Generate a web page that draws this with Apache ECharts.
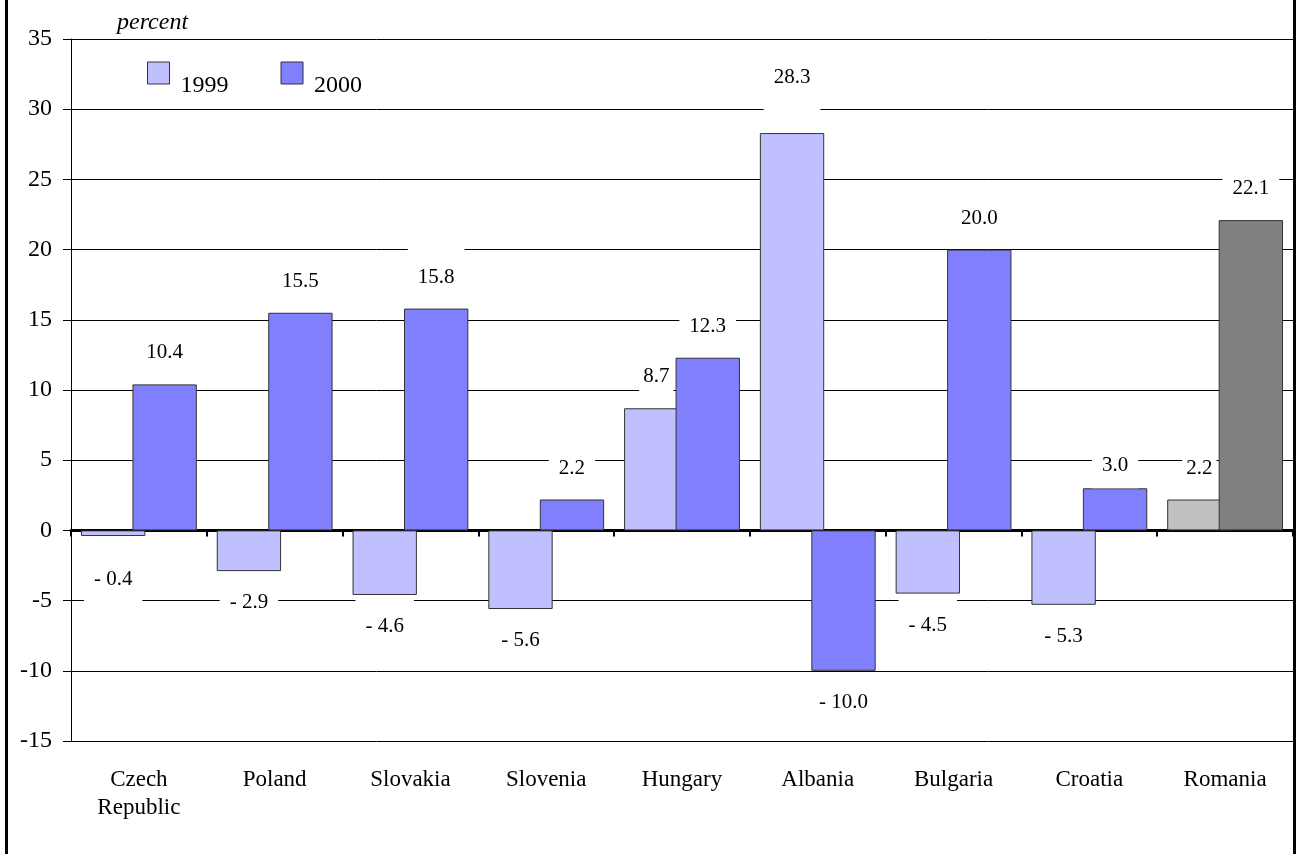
<!DOCTYPE html>
<html>
<head>
<meta charset="utf-8">
<script src="https://cdn.jsdelivr.net/npm/echarts@6/dist/echarts.min.js"></script>
<style>
  html, body { margin: 0; padding: 0; background: #fff; }
  #chart { width: 1296px; height: 854px; }
</style>
</head>
<body>
<div id="chart"></div>
<script>
// countries on the x axis
var countries = ['Czech Republic', 'Poland', 'Slovakia', 'Slovenia', 'Hungary', 'Albania', 'Bulgaria', 'Croatia', 'Romania'];
// percent change, by year
var values1999 = [-0.4, -2.9, -4.6, -5.6, 8.7, 28.3, -4.5, -5.3, 2.2];
var values2000 = [10.4, 15.5, 15.8, 2.2, 12.3, -10.0, 20.0, 3.0, 22.1];
var yTicks = [-15, -10, -5, 0, 5, 10, 15, 20, 25, 30, 35];

var serif = 'Liberation Serif, Times New Roman, serif';

// Romania is shown in grey in the original
var greyed = { 'Romania': { '1999': '#c0c0c0', '2000': '#808080' } };
// a few labels sit further from (or closer to) their bar than the rest:
// padding on the bar side of the label box
var labelGap = { '1999|Czech Republic': 33, '1999|Albania': 45, '2000|Croatia': 12 };
// labels next to a taller neighbour bar get a narrower box
var narrowLabel = { '1999|Hungary': true, '1999|Romania': true };

function fmt(v) {
    return v < 0 ? '- ' + Math.abs(v).toFixed(1) : v.toFixed(1);
}

function buildData(year, vals) {
    return vals.map(function (v, i) {
        var c = countries[i];
        var key = year + '|' + c;
        var item = { value: v };
        if (greyed[c]) item.itemStyle = { color: greyed[c][year] };
        var lab = { position: v < 0 ? 'bottom' : 'top' };
        var side = narrowLabel[key] ? 4 : 10;
        var g = labelGap[key];
        if (g) {
            lab.distance = 0;
            lab.padding = v < 0 ? [g, side, 19, side] : [19, side, g, side];
        } else {
            lab.padding = [19, side, 19, side];
        }
        item.label = lab;
        return item;
    });
}

function barSeries(year, vals, color) {
    return {
        name: year,
        type: 'bar',
        xAxisIndex: 0,
        barCategoryGap: '14.7%',
        barGap: '-20%',
        itemStyle: { color: color, borderColor: '#333', borderWidth: 1 },
        label: {
            show: true,
            position: 'top',
            distance: 2,
            fontFamily: serif,
            fontSize: 21,
            color: '#000',
            backgroundColor: '#fff',
            padding: [19, 10, 19, 10],
            formatter: function (p) { return fmt(p.value); }
        },
        data: buildData(year, vals)
    };
}

var chart = echarts.init(document.getElementById('chart'));

var option = {
    backgroundColor: '#fff',
    animation: false,
    title: {
        text: 'percent',
        left: 112,
        top: 6,
        textStyle: { fontFamily: serif, fontStyle: 'italic', fontWeight: 'normal', fontSize: 24, color: '#000' }
    },
    legend: {
        left: 147,
        top: 47,
        padding: 0,
        icon: 'rect',
        itemWidth: 22,
        itemHeight: 22,
        itemGap: 52,
        data: ['1999', '2000'],
        itemStyle: { borderColor: '#333', borderWidth: 1 },
        formatter: function (name) { return '{g| }\n{t|' + name + '}'; },
        textStyle: {
            fontFamily: serif,
            fontSize: 24,
            color: '#000',
            rich: {
                g: { fontFamily: serif, fontSize: 24, lineHeight: 26 },
                t: { fontFamily: serif, fontSize: 24, lineHeight: 28, color: '#000', padding: [0, 0, 0, 6] }
            }
        }
    },
    grid: { left: 71, right: 3, top: 39, bottom: 113 },
    xAxis: [{
        type: 'category',
        data: countries,
        axisLine: { onZero: true, lineStyle: { color: '#000', width: 3 } },
        axisTick: { show: true, length: 6, lineStyle: { color: '#000', width: 2 } },
        axisLabel: { show: false },
        splitLine: { show: false }
    }, {
        type: 'category',
        position: 'bottom',
        data: countries,
        axisLine: { show: false, onZero: false },
        axisTick: { show: false },
        axisLabel: {
            margin: 25,
            fontFamily: serif,
            fontSize: 23,
            lineHeight: 28,
            color: '#000',
            interval: 0,
            formatter: function (v) { return v.replace(' ', '\n'); }
        }
    }],
    yAxis: {
        type: 'value',
        min: yTicks[0],
        max: yTicks[yTicks.length - 1],
        interval: 5,
        axisLine: { show: true, lineStyle: { color: '#000', width: 1 } },
        axisTick: { show: true, length: 8, lineStyle: { color: '#000' } },
        axisLabel: { margin: 19, fontFamily: serif, fontSize: 24, color: '#000' },
        splitLine: { lineStyle: { color: '#000', width: 1 } }
    },
    graphic: [
        { type: 'line', shape: { x1: 6.5, y1: 0, x2: 6.5, y2: 854 }, style: { stroke: '#000', lineWidth: 3 } },
        { type: 'line', shape: { x1: 1294.5, y1: 0, x2: 1294.5, y2: 854 }, style: { stroke: '#000', lineWidth: 3 } }
    ],
    series: [
        barSeries('1999', values1999, '#c0c0ff'),
        barSeries('2000', values2000, '#8080ff')
    ]
};

chart.setOption(option);
</script>
</body>
</html>
